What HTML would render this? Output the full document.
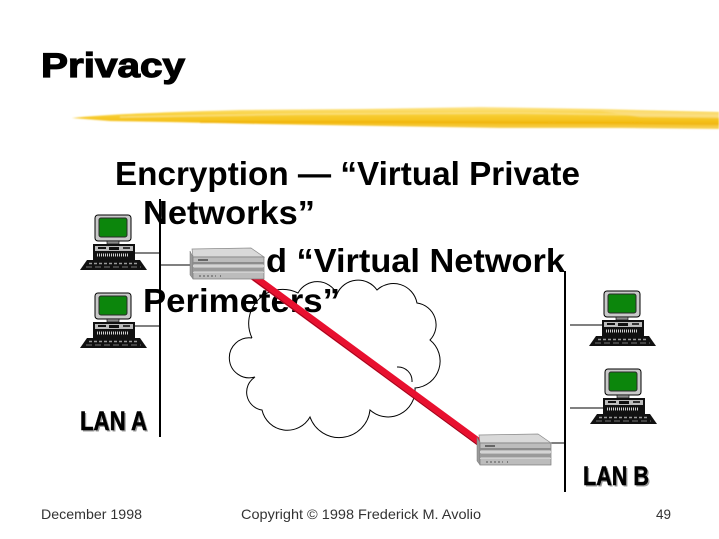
<!DOCTYPE html>
<html>
<head>
<meta charset="utf-8">
<style>
  html,body{margin:0;padding:0;background:#fff;}
  svg{display:block;}
</style>
</head>
<body>
<svg width="719" height="539" viewBox="0 0 719 539" xmlns="http://www.w3.org/2000/svg">
  <defs>
    <linearGradient id="brush" x1="0" y1="0" x2="0" y2="1">
      <stop offset="0" stop-color="#fde590"/>
      <stop offset="0.35" stop-color="#f8cf35"/>
      <stop offset="0.7" stop-color="#f3bd14"/>
      <stop offset="1" stop-color="#f7d25a"/>
    </linearGradient>
    <filter id="soft" x="-5%" y="-50%" width="110%" height="200%">
      <feGaussianBlur stdDeviation="0.7"/>
    </filter>
    <g id="pc">
      <rect x="0" y="0" width="36" height="26" rx="3" fill="#c9c9c9" stroke="#000" stroke-width="1"/>
      <rect x="4" y="3" width="28" height="19" rx="2" fill="#0c860c" stroke="#2a2a2a" stroke-width="1"/>
      <rect x="12" y="26" width="12" height="3" fill="#8a8a8a" stroke="#000" stroke-width="0.6"/>
      <rect x="-2" y="29" width="42" height="16" fill="#111"/>
      <rect x="0" y="31" width="38" height="5" fill="#bdbdbd"/>
      <rect x="3" y="32" width="8" height="2" fill="#111"/>
      <rect x="14" y="32" width="10" height="3" fill="#111"/>
      <rect x="28" y="32" width="7" height="2" fill="#333"/>
      <line x1="2" y1="40" x2="34" y2="40" stroke="#cfcfcf" stroke-width="3" stroke-dasharray="1 1"/>
      <polygon points="-8,45 45,45 52,55 -15,55" fill="#111"/>
      <line x1="-6" y1="48.5" x2="44" y2="48.5" stroke="#9a9a9a" stroke-width="1.5" stroke-dasharray="3 2"/>
      <line x1="-9" y1="52" x2="46" y2="52" stroke="#777" stroke-width="1" stroke-dasharray="6 3"/>
    </g>
    <g id="router">
      <polygon points="0,3 3,9 3,31 0,27" fill="#9a9a9a" stroke="#777" stroke-width="0.5"/>
      <polygon points="2,1 61,0 74,9 3,9" fill="#d9d9d9" stroke="#8a8a8a" stroke-width="0.7"/>
      <rect x="3" y="9" width="71" height="22" fill="#bcbcbc" stroke="#7a7a7a" stroke-width="0.7"/>
      <rect x="3" y="14" width="71" height="2" fill="#8c8c8c"/>
      <rect x="3" y="17" width="71" height="2" fill="#d4d4d4"/>
      <rect x="3" y="20" width="71" height="3" fill="#9a9a9a"/>
      <rect x="3" y="24" width="71" height="1" fill="#d0d0d0"/>
      <rect x="8" y="11" width="10" height="2" fill="#666"/>
      <line x1="9" y1="28" x2="26" y2="28" stroke="#555" stroke-width="1" stroke-dasharray="2 2"/>
      <rect x="30" y="27.5" width="1" height="1" fill="#333"/>
    </g>
  </defs>

  <rect width="719" height="539" fill="#fff"/>

  <!-- Title -->
  <text x="41" y="77" font-family="'Liberation Sans', Arial, sans-serif" font-weight="bold" font-size="34" textLength="144" lengthAdjust="spacingAndGlyphs" fill="#000" stroke="#000" stroke-width="1.2">Privacy</text>

  <!-- Yellow brush stroke -->
  <g filter="url(#soft)">
    <path d="M72,118 C110,114 170,112 240,110 L360,109 L480,107 L600,109 L719,112 L719,129 L620,128 L500,128 L380,126 L260,124 L170,122 L110,121 Z" fill="url(#brush)"/>
    <path d="M120,117 L300,114 L520,113 L719,116" stroke="#fbe48a" stroke-width="1.5" fill="none" opacity="0.8"/>
    <path d="M200,122 L400,122 L600,123 L719,124" stroke="#efb20c" stroke-width="2" fill="none" opacity="0.7"/>
    <path d="M600,111 L719,113 L719,118 L640,117 Z" fill="#fbe08a" opacity="0.7"/>
  </g>

  <!-- Body text -->
  <g font-family="'Liberation Sans', Tahoma, sans-serif" font-weight="bold" font-size="33" fill="#000">
    <text x="115" y="185" textLength="465" lengthAdjust="spacingAndGlyphs">Encryption — “Virtual Private</text>
    <text x="143" y="224" textLength="172" lengthAdjust="spacingAndGlyphs">Networks”</text>
    <text x="266" y="272" textLength="299" lengthAdjust="spacingAndGlyphs">d “Virtual Network</text>
    <text x="143" y="312" textLength="197" lengthAdjust="spacingAndGlyphs">Perimeters”</text>
  </g>

  <!-- LAN lines -->
  <line x1="160" y1="199" x2="160" y2="437" stroke="#000" stroke-width="2"/>
  <line x1="565" y1="271" x2="565" y2="492" stroke="#000" stroke-width="2"/>

  <!-- connection lines -->
  <line x1="135" y1="253" x2="160" y2="253" stroke="#000" stroke-width="1"/>
  <line x1="135" y1="326" x2="160" y2="326" stroke="#000" stroke-width="1"/>
  <line x1="160" y1="265" x2="191" y2="265" stroke="#000" stroke-width="1"/>
  <line x1="570" y1="325" x2="603" y2="325" stroke="#000" stroke-width="1"/>
  <line x1="570" y1="408" x2="603" y2="408" stroke="#000" stroke-width="1"/>
  <line x1="551" y1="443" x2="565" y2="443" stroke="#000" stroke-width="1"/>

  <!-- Cloud -->
  <g fill="none" stroke="#000" stroke-width="1">
    <path d="M252,338 A34,34 0 0 1 298,293 A22,22 0 0 1 337,294 A23,23 0 0 1 377,290 A24,24 0 0 1 417,303 A22,22 0 0 1 430,340 A27,27 0 0 1 415,388 A27,27 0 0 1 370,410 A31,31 0 0 1 310,417 A26,26 0 0 1 262,410 A18,18 0 0 1 255,377 A20,20 0 1 1 252,338"/>
    <path d="M397,367 A14,14 0 0 1 412,382"/>
  </g>

  <!-- Red tunnel line -->
  <line x1="250" y1="274" x2="483" y2="445" stroke="#e8102f" stroke-width="7.5"/>
  <line x1="252" y1="279" x2="483" y2="449" stroke="#5a0010" stroke-width="0.8" opacity="0.6"/>

  <!-- Routers -->
  <use href="#router" x="190" y="248"/>
  <use href="#router" x="477" y="434"/>

  <!-- Computers -->
  <use href="#pc" x="95" y="215"/>
  <use href="#pc" x="95" y="293"/>
  <use href="#pc" x="604" y="291"/>
  <use href="#pc" x="605" y="369"/>

  <!-- LAN labels -->
  <g font-family="'Liberation Sans Narrow', 'Liberation Sans', sans-serif" font-weight="bold" font-size="27">
    <text x="81.5" y="431.5" textLength="67" lengthAdjust="spacingAndGlyphs" fill="#9a9a9a">LAN A</text>
    <text x="80" y="430" textLength="67" lengthAdjust="spacingAndGlyphs" fill="#000" stroke="#000" stroke-width="0.5">LAN A</text>
    <text x="584.5" y="486.5" textLength="66" lengthAdjust="spacingAndGlyphs" fill="#9a9a9a">LAN B</text>
    <text x="583" y="485" textLength="66" lengthAdjust="spacingAndGlyphs" fill="#000" stroke="#000" stroke-width="0.5">LAN B</text>
  </g>

  <!-- Footer -->
  <g font-family="'Liberation Sans', Arial, sans-serif" font-size="14" fill="#333">
    <text x="41" y="519" textLength="101" lengthAdjust="spacingAndGlyphs">December 1998</text>
    <text x="241" y="519" textLength="240" lengthAdjust="spacingAndGlyphs">Copyright © 1998 Frederick M. Avolio</text>
    <text x="656" y="519" textLength="15" lengthAdjust="spacingAndGlyphs">49</text>
  </g>
</svg>
</body>
</html>
